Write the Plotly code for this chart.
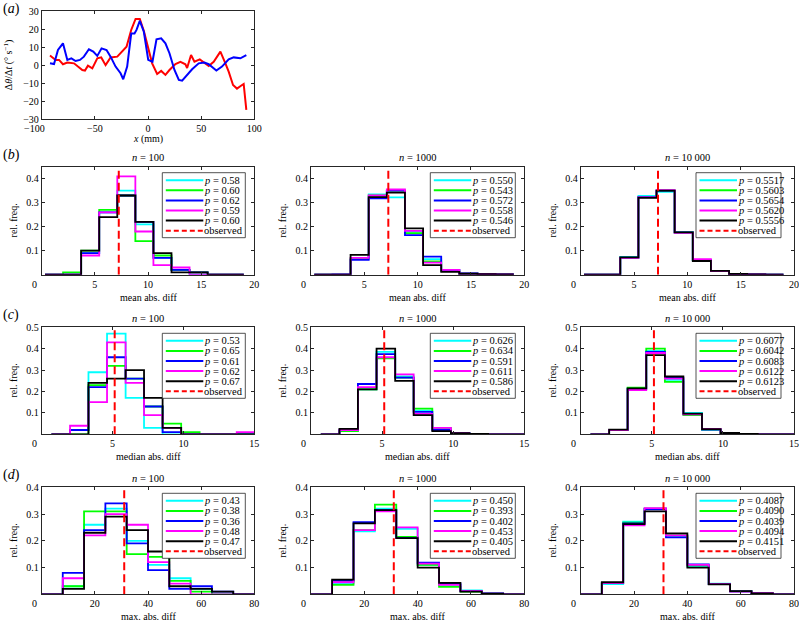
import plotly.graph_objects as go

FONT = "Liberation Serif"
W, H = 799, 624

# ---------------- panel (a) data ----------------
A_RED_X = [-92.2, -86.9, -83.7, -80.0, -75.9, -69.6, -65.9, -61.8, -59.3, -56.5,
           -52.4, -47.7, -44.0, -39.9, -35.2, -28.9, -20.2, -15.8, -11.7, -7.7,
           -3.9, 1.4, 3.9, 8.6, 12.4, 16.4, 20.2, 25.8, 30.5, 35.2,
           36.8, 40.5, 43.7, 48.7, 53.1, 57.1, 61.8, 68.1, 72.8, 75.9,
           80.0, 83.7, 87.5, 90.0, 92.5]
A_RED_Y = [5.3, 2.9, 2.9, 0.5, 1.4, 1.0, -0.8, -2.7, -3.0, -0.3,
           -1.8, 3.8, 4.3, 0.0, 4.3, 4.7, 10.2, 19.5, 25.6, 25.6,
           18.9, 7.5, 1.0, -4.9, -3.2, -5.4, -2.7, 0.6, 1.8, 0.5,
           -1.6, 5.6, 1.9, 3.2, 1.0, -0.5, 1.9, 7.5, 1.0, -3.6,
           -11.0, -13.0, -11.4, -10.4, -24.8]
A_BLUE_X = [-92.2, -88.4, -84.7, -80.0, -75.9, -72.1, -68.1, -64.0, -60.3, -55.6,
            -51.5, -47.7, -43.7, -39.0, -35.2, -30.5, -25.8, -23.3, -19.6, -15.8,
            -12.7, -10.8, -7.7, -3.9, 0.2, 4.2, 8.0, 12.4, 16.4, 20.2,
            24.9, 29.0, 32.1, 36.8, 41.5, 47.7, 53.1, 57.1, 64.3, 69.6,
            75.9, 80.6, 86.9, 92.5]
A_BLUE_Y = [1.0, 0.6, 8.4, 12.1, 2.9, 3.8, 2.3, 2.9, 4.7, 8.8,
            7.5, 5.1, 9.3, 8.4, 4.7, -0.8, -4.5, -7.8, -0.8, 17.5,
            17.5, 19.5, 24.5, 18.5, 2.9, 1.9, 14.3, 14.9, 12.1, 6.6,
            -2.7, -8.2, -8.6, -5.4, -2.3, 1.0, 1.4, 0.5, -3.0, -0.8,
            3.2, 4.3, 3.8, 5.6]
A_X_TICKS = [-100, -50, 0, 50, 100]
A_Y_TICKS = [-30, -20, -10, 0, 10, 20, 30]

# ---------------- histogram data ----------------
SERIES_COLORS = ["#00ffff", "#00ff00", "#0000ff", "#ff00ff", "#000000"]
N_LABELS = ["100", "1000", "10 000"]

# (b) mean abs. diff
B_EDGES = [0.31, 2.01, 3.71, 5.41, 7.11, 8.81, 10.51, 12.21, 13.91, 15.61, 17.31, 19.01]
B100 = [[0, 0, 0.09, 0.26, 0.35, 0.21, 0.07, 0.02, 0, 0, 0],
        [0, 0.01, 0.10, 0.27, 0.33, 0.14, 0.08, 0.02, 0.01, 0, 0],
        [0, 0, 0.09, 0.26, 0.33, 0.22, 0.07, 0.02, 0.01, 0, 0],
        [0, 0, 0.08, 0.26, 0.41, 0.18, 0.04, 0.03, 0, 0, 0],
        [0, 0, 0.10, 0.24, 0.33, 0.22, 0.09, 0.01, 0.01, 0, 0]]
B1000 = [[0, 0, 0.065, 0.335, 0.322, 0.18, 0.065, 0.018, 0.005, 0.002, 0.001],
         [0, 0, 0.068, 0.33, 0.35, 0.173, 0.055, 0.015, 0.004, 0.002, 0.001],
         [0, 0.001, 0.062, 0.318, 0.35, 0.165, 0.075, 0.02, 0.005, 0.002, 0.001],
         [0, 0, 0.07, 0.33, 0.355, 0.183, 0.05, 0.02, 0.004, 0.002, 0.001],
         [0, 0, 0.083, 0.323, 0.342, 0.193, 0.04, 0.012, 0.004, 0.002, 0.001]]
B10000 = [[0, 0, 0.074, 0.328, 0.345, 0.176, 0.06, 0.015, 0.003, 0.001, 0],
          [0, 0, 0.071, 0.324, 0.35, 0.176, 0.06, 0.016, 0.003, 0.001, 0],
          [0, 0, 0.071, 0.323, 0.35, 0.176, 0.061, 0.016, 0.003, 0.001, 0],
          [0, 0, 0.07, 0.322, 0.352, 0.174, 0.065, 0.015, 0.003, 0.001, 0],
          [0, 0, 0.072, 0.32, 0.35, 0.176, 0.057, 0.016, 0.003, 0.001, 0]]
B_P = [["0.58", "0.60", "0.62", "0.59", "0.60"],
       ["0.550", "0.543", "0.572", "0.558", "0.546"],
       ["0.5517", "0.5603", "0.5654", "0.5620", "0.5556"]]
B_OBS = 7.25
B_X_TICKS = [0, 5, 10, 15, 20]
B_Y_TICKS = [0.1, 0.2, 0.3, 0.4]

# (c) median abs. diff
C_EDGES = [0.69, 2.00, 3.30, 4.61, 5.92, 7.22, 8.53, 9.84, 11.14, 12.45, 13.76, 15.06]
C100 = [[0, 0.02, 0.29, 0.47, 0.17, 0.03, 0, 0, 0, 0, 0],
        [0, 0, 0.23, 0.32, 0.26, 0.13, 0.05, 0.01, 0, 0, 0],
        [0, 0.02, 0.22, 0.36, 0.26, 0.13, 0.01, 0, 0, 0, 0],
        [0, 0.04, 0.15, 0.43, 0.24, 0.09, 0.03, 0, 0, 0, 0.01],
        [0, 0, 0.24, 0.26, 0.30, 0.17, 0.03, 0, 0, 0, 0]]
C1000 = [[0, 0.015, 0.21, 0.385, 0.27, 0.11, 0.025, 0.005, 0.002, 0, 0],
         [0, 0.015, 0.21, 0.355, 0.265, 0.12, 0.03, 0.005, 0.002, 0, 0],
         [0, 0.02, 0.235, 0.375, 0.265, 0.105, 0.02, 0.005, 0.001, 0, 0],
         [0, 0.02, 0.22, 0.36, 0.28, 0.095, 0.03, 0.005, 0.002, 0, 0],
         [0, 0.025, 0.21, 0.40, 0.25, 0.09, 0.015, 0.005, 0.002, 0, 0]]
C10000 = [[0, 0.02, 0.215, 0.39, 0.255, 0.10, 0.022, 0.006, 0.002, 0, 0],
          [0, 0.02, 0.218, 0.40, 0.245, 0.09, 0.022, 0.006, 0.002, 0, 0],
          [0, 0.02, 0.212, 0.385, 0.265, 0.095, 0.022, 0.006, 0.002, 0, 0],
          [0, 0.02, 0.207, 0.38, 0.26, 0.093, 0.025, 0.006, 0.002, 0, 0],
          [0, 0.022, 0.215, 0.37, 0.27, 0.097, 0.024, 0.006, 0.002, 0, 0]]
C_P = [["0.53", "0.65", "0.61", "0.62", "0.67"],
       ["0.626", "0.634", "0.591", "0.611", "0.586"],
       ["0.6077", "0.6042", "0.6083", "0.6122", "0.6123"]]
C_OBS = 5.15
C_X_TICKS = [0, 5, 10, 15]
C_Y_TICKS = [0.1, 0.2, 0.3, 0.4, 0.5]

# (d) max. abs. diff
D_EDGES = [-0.1, 7.92, 15.94, 23.96, 31.98, 40.0, 48.02, 56.04, 64.06, 72.08, 80.1]
D100 = [[0, 0.03, 0.26, 0.32, 0.20, 0.11, 0.06, 0.02, 0, 0],
        [0, 0.03, 0.31, 0.31, 0.15, 0.14, 0.05, 0.01, 0, 0],
        [0, 0.08, 0.24, 0.34, 0.19, 0.09, 0.02, 0.03, 0.01, 0],
        [0, 0.06, 0.22, 0.30, 0.26, 0.12, 0.04, 0, 0, 0],
        [0, 0.02, 0.23, 0.29, 0.24, 0.16, 0.03, 0.02, 0.01, 0]]
D1000 = [[0, 0.04, 0.235, 0.32, 0.245, 0.11, 0.035, 0.015, 0.002, 0],
         [0, 0.035, 0.24, 0.335, 0.215, 0.11, 0.028, 0.01, 0.002, 0],
         [0, 0.05, 0.27, 0.315, 0.21, 0.118, 0.04, 0.012, 0.003, 0],
         [0, 0.045, 0.24, 0.31, 0.25, 0.115, 0.035, 0.012, 0.002, 0],
         [0, 0.055, 0.265, 0.315, 0.21, 0.10, 0.043, 0.01, 0.002, 0]]
D10000 = [[0, 0.038, 0.272, 0.32, 0.218, 0.104, 0.04, 0.011, 0.003, 0],
          [0, 0.042, 0.268, 0.32, 0.22, 0.108, 0.038, 0.011, 0.003, 0],
          [0, 0.042, 0.265, 0.318, 0.213, 0.112, 0.038, 0.011, 0.003, 0],
          [0, 0.042, 0.258, 0.322, 0.22, 0.11, 0.038, 0.01, 0.004, 0],
          [0, 0.045, 0.262, 0.31, 0.228, 0.10, 0.037, 0.012, 0.003, 0]]
D_P = [["0.43", "0.38", "0.36", "0.48", "0.47"],
       ["0.450", "0.393", "0.402", "0.453", "0.405"],
       ["0.4087", "0.4090", "0.4039", "0.4094", "0.4151"]]
D_OBS = 31.05
D_X_TICKS = [0, 20, 40, 60, 80]
D_Y_TICKS = [0.1, 0.2, 0.3, 0.4]

# ---------------- layout geometry (pixels) ----------------
COLS = [(41.7, 254.3), (311.0, 524.3), (580.7, 794.0)]
ROW_A = (11.0, 119.3)
ROWS = [(166.7, 274.7), (327.3, 434.3), (487.3, 594.3)]
LEG_W = [83, 85, 85]
LEG_R = [9, 9, 13]
AX_COLOR = "#262626"
FIRST_LABEL_SHIFT = -7.5


def px_x(p):
    return p / W


def px_y(p):
    return 1 - p / H


def fmt(v):
    return ("%g" % v).replace("-", "\u2212")


def axis_style(rng, tickvals, domain, hide_first=False):
    texts = [fmt(v) for v in tickvals]
    if hide_first:
        texts[0] = " "
    return dict(range=rng, domain=domain, tickvals=tickvals, ticktext=texts,
                automargin=False, autorange=False,
                showline=True, linecolor=AX_COLOR, linewidth=0.8, mirror="ticks",
                ticks="inside", ticklen=3, tickwidth=0.8, tickcolor=AX_COLOR,
                showgrid=False, zeroline=False,
                tickfont=dict(family=FONT, size=10, color="#000000"))


def first_xlabel(xref, val, bottom_px, dy):
    # first x tick label sits slightly left of its tick in the reference
    return dict(text=fmt(val), x=val, xref=xref, y=px_y(bottom_px + dy), yref="paper",
                xanchor="center", yanchor="middle", xshift=FIRST_LABEL_SHIFT,
                showarrow=False, font=dict(family=FONT, size=10, color="#000"))


fig = go.Figure()
layout = {}
annotations = []
shapes = []

# ---- panel (a)
fig.add_trace(go.Scatter(x=A_RED_X, y=A_RED_Y, mode="lines",
                         line=dict(color="#ff0000", width=2), xaxis="x", yaxis="y",
                         showlegend=False))
fig.add_trace(go.Scatter(x=A_BLUE_X, y=A_BLUE_Y, mode="lines",
                         line=dict(color="#0000ff", width=2), xaxis="x", yaxis="y",
                         showlegend=False))
layout["xaxis"] = axis_style([-100, 100], A_X_TICKS, [px_x(COLS[0][0]), px_x(COLS[0][1])],
                             hide_first=True)
layout["xaxis"]["anchor"] = "y"
layout["yaxis"] = axis_style([-30, 30], A_Y_TICKS, [px_y(ROW_A[1]), px_y(ROW_A[0])])
layout["yaxis"]["anchor"] = "x"
annotations.append(first_xlabel("x", A_X_TICKS[0], ROW_A[1], 9.5))
annotations.append(dict(text="(<i>a</i>)", x=px_x(1), y=px_y(9), xref="paper", yref="paper",
                        xanchor="left", yanchor="middle", showarrow=False,
                        font=dict(family=FONT, size=14, color="#000")))
annotations.append(dict(text="<i>x</i> (mm)", x=px_x((COLS[0][0] + COLS[0][1]) / 2), y=px_y(139),
                        xref="paper", yref="paper", xanchor="center", yanchor="middle",
                        showarrow=False, font=dict(family=FONT, size=10, color="#000")))
annotations.append(dict(text="Δ<i>θ</i>/Δ<i>t</i> (° s<sup>−1</sup>)", x=px_x(8),
                        y=px_y((ROW_A[0] + ROW_A[1]) / 2), xref="paper", yref="paper",
                        xanchor="center", yanchor="middle", textangle=-90, showarrow=False,
                        font=dict(family=FONT, size=10, color="#000")))

# ---- histograms
ROW_SPECS = [
    ("b", B_EDGES, [B100, B1000, B10000], B_P, B_OBS, 0.45, 20, B_X_TICKS, B_Y_TICKS, "mean abs. diff"),
    ("c", C_EDGES, [C100, C1000, C10000], C_P, C_OBS, 0.5, 15, C_X_TICKS, C_Y_TICKS, "median abs. diff"),
    ("d", D_EDGES, [D100, D1000, D10000], D_P, D_OBS, 0.4, 80, D_X_TICKS, D_Y_TICKS, "max. abs. diff"),
]

k = 2
for r, (lab, edges, panels, pvals, obs, ymax, xmax, xt, yt, xtitle) in enumerate(ROW_SPECS):
    top, bot = ROWS[r]
    annotations.append(dict(text="(<i>%s</i>)" % lab, x=px_x(1), y=px_y(top - 12),
                            xref="paper", yref="paper", xanchor="left", yanchor="middle",
                            showarrow=False, font=dict(family=FONT, size=14, color="#000")))
    for c in range(3):
        left, right = COLS[c]
        xa, ya = "x%d" % k, "y%d" % k
        for s, vals in enumerate(panels[c]):
            fig.add_trace(go.Scatter(x=edges, y=list(vals) + [vals[-1]], mode="lines",
                                     line=dict(color=SERIES_COLORS[s], width=1.8, shape="hv"),
                                     xaxis=xa, yaxis=ya, showlegend=False))
        fig.add_trace(go.Scatter(x=[obs, obs], y=[0, ymax], mode="lines",
                                 line=dict(color="#ff0000", width=2, dash="8px,4px"),
                                 xaxis=xa, yaxis=ya, showlegend=False))
        xl = axis_style([0, xmax], xt, [px_x(left), px_x(right)], hide_first=True)
        xl["anchor"] = ya
        yl = axis_style([0, ymax], yt, [px_y(bot), px_y(top)])
        yl["anchor"] = xa
        layout["xaxis%d" % k] = xl
        layout["yaxis%d" % k] = yl
        annotations.append(first_xlabel(xa, xt[0], bot, 9.5))
        cx = (left + right) / 2
        annotations.append(dict(text="<i>n</i> = %s" % N_LABELS[c], x=px_x(cx), y=px_y(top - 9),
                                xref="paper", yref="paper", xanchor="center", yanchor="middle",
                                showarrow=False, font=dict(family=FONT, size=10.5, color="#000")))
        annotations.append(dict(text=xtitle, x=px_x(cx), y=px_y(bot + 22.5),
                                xref="paper", yref="paper", xanchor="center", yanchor="middle",
                                showarrow=False, font=dict(family=FONT, size=10, color="#000")))
        annotations.append(dict(text="rel. freq.", x=px_x(left - 28), y=px_y((top + bot) / 2),
                                xref="paper", yref="paper", xanchor="center", yanchor="middle",
                                textangle=-90, showarrow=False,
                                font=dict(family=FONT, size=10, color="#000")))
        # legend box
        lr = right - LEG_R[c]
        ll = lr - LEG_W[c]
        lt = top + 6
        lb = lt + 65
        shapes.append(dict(type="rect", xref="paper", yref="paper", x0=px_x(ll), x1=px_x(lr),
                           y0=px_y(lb), y1=px_y(lt), fillcolor="#ffffff",
                           line=dict(color=AX_COLOR, width=0.8), layer="above"))
        labels = ["<i>p</i> = %s" % p for p in pvals[c]] + ["observed"]
        colors = SERIES_COLORS + ["#ff0000"]
        for i, (txt, col) in enumerate(zip(labels, colors)):
            yy = lt + 7.5 + 10.1 * i
            shapes.append(dict(type="line", xref="paper", yref="paper",
                               x0=px_x(ll + 3.5), x1=px_x(ll + 41), y0=px_y(yy), y1=px_y(yy),
                               line=dict(color=col, width=2,
                                         dash="5px,3px" if i == 5 else "solid"),
                               layer="above"))
            annotations.append(dict(text=txt, x=px_x(ll + 41), y=px_y(yy), xref="paper",
                                    yref="paper", xanchor="left", yanchor="middle",
                                    showarrow=False, borderpad=0,
                                    font=dict(family=FONT, size=10.5, color="#000")))
        k += 1

fig.update_layout(**layout)
fig.update_layout(template="none", width=W, height=H, margin=dict(l=0, r=0, t=0, b=0, pad=0),
                  paper_bgcolor="#ffffff", plot_bgcolor="#ffffff",
                  annotations=annotations, shapes=shapes, showlegend=False,
                  font=dict(family=FONT, color="#000"))
fig.write_html("out.html", config={"displayModeBar": False},
               post_script="document.body.style.margin='0px';document.body.style.padding='0px';")
